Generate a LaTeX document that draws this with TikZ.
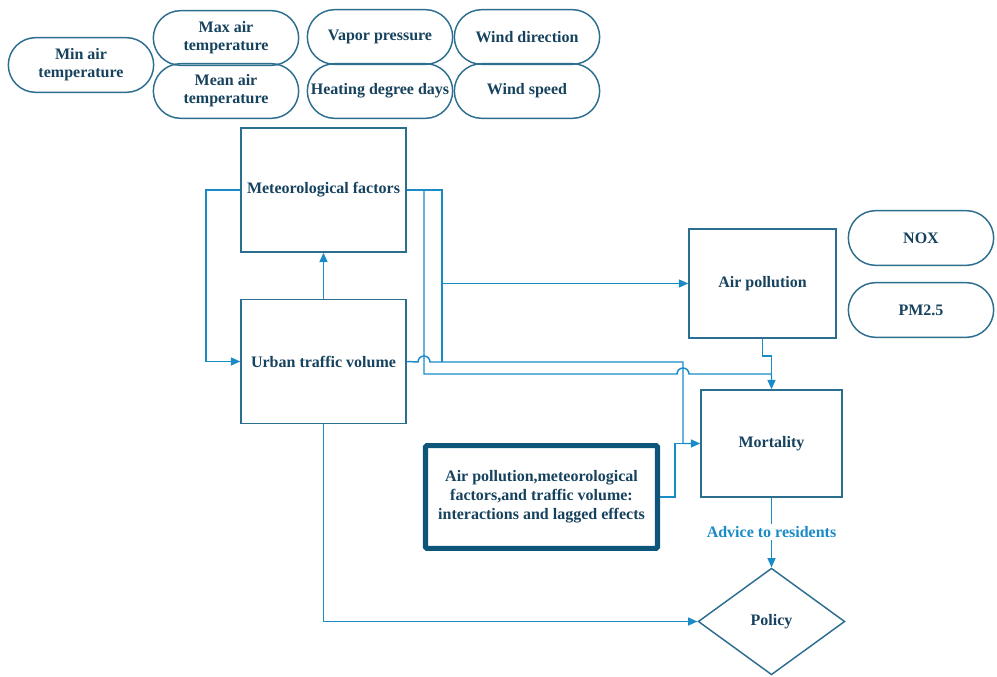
\documentclass[tikz,border=0pt]{standalone}
\usepackage{fontspec}
\setmainfont{Liberation Serif}
\usetikzlibrary{arrows.meta,shapes.misc,shapes.geometric}

\definecolor{boxline}{RGB}{44,110,143}
\definecolor{boxtext}{RGB}{22,66,94}
\definecolor{conn}{RGB}{26,139,198}
\definecolor{thick}{RGB}{13,86,121}

\tikzset{every picture/.style={line width=0.75pt}}
\tikzset{
  lbl/.style={font=\fontsize{12}{13.5}\selectfont\bfseries, text=boxtext, align=center},
  pill/.style={lbl, rounded rectangle, draw=boxline, line width=1.1pt, minimum width=111pt, minimum height=41pt, inner sep=1pt},
  factorbox/.style={lbl, rectangle, draw=boxline, line width=1.1pt},
  link/.style={draw=conn, line width=1.1pt},
  arr/.style={link, -{Triangle[length=7pt,width=6pt]}}
}

\begin{document}
\begin{tikzpicture}[x=0.75pt,y=0.75pt,yscale=-1,xscale=1]
\useasboundingbox (0,0) rectangle (997,677);

% Text Node
\node [pill] (mint) at (81,65) {Min air\\temperature};
\node [pill] (maxt) at (226,38) {Max air\\temperature};
\node [pill] (meant) at (226,91) {Mean air\\temperature};
\node [pill] (vap) at (380,37) {Vapor pressure};
\node [pill] (hdd) at (380,91) {Heating degree days};
\node [pill] (wdir) at (527,37) {Wind direction};
\node [pill] (wspd) at (527,91) {Wind speed};
\node [pill] (nox) at (921,238) {NOX};
\node [pill] (pm) at (921,310) {PM2.5};

% Text Node
\node [factorbox, minimum width=123.75pt, minimum height=93pt] (met) at (323.5,190) {Meteorological factors};
\node [factorbox, minimum width=123.75pt, minimum height=93pt] (urb) at (323.5,361.5) {Urban traffic volume};
\node [factorbox, minimum width=110.25pt, minimum height=81.75pt] (air) at (762.5,283.5) {Air pollution};
\node [factorbox, minimum width=105.75pt, minimum height=80.25pt] (mort) at (771.5,443.5) {Mortality};
\node [lbl, rectangle, draw=thick, line width=3.8pt, rounded corners=1pt, minimum width=174pt, minimum height=77pt, font=\fontsize{12}{14.25}\selectfont\bfseries] (inter) at (541.5,497) {Air pollution,meteorological\\factors,and traffic volume:\\interactions and lagged effects};
\node [lbl, diamond, draw=boxline, line width=1.1pt, minimum width=110pt, minimum height=80pt, inner sep=0pt] (pol) at (771.5,621.5) {Policy};

% Connection
\coordinate (lft) at (206,361.5);
\coordinate (ma) at (424,190);
\coordinate (mb) at (442,190);
\coordinate (mc) at (683,362);
\coordinate (md) at (675,443.5);
\draw [arr] (urb.north) -- (met.south);
\draw [arr] (met.west) -| (lft) -- (urb.west);
\draw [link] (met.east) -- (mb) -- (442,362);
\draw [arr] (442,283.5) -- (air.west);
\draw [arr] (urb.east) -- (418,362) arc [start angle=180, end angle=360, radius=6] -- (mc) |- (mort.west);
\draw [arr] (ma) -- (424,374) -- (677,374) arc [start angle=180, end angle=360, radius=6] -| (mort.north);
\draw [link] (air.south) -- (762.5,356) -| (771.5,374);
\draw [link] (inter.east) -| (md) -- (mc |- md);
\draw [arr] (urb.south) |- (pol.west);
\draw [arr] (mort.south) -- (pol.north) node [pos=0.49, fill=white, inner sep=2pt, font=\fontsize{12}{13.5}\selectfont\bfseries, text=conn] (adv) {Advice to residents};

\end{tikzpicture}
\end{document}
